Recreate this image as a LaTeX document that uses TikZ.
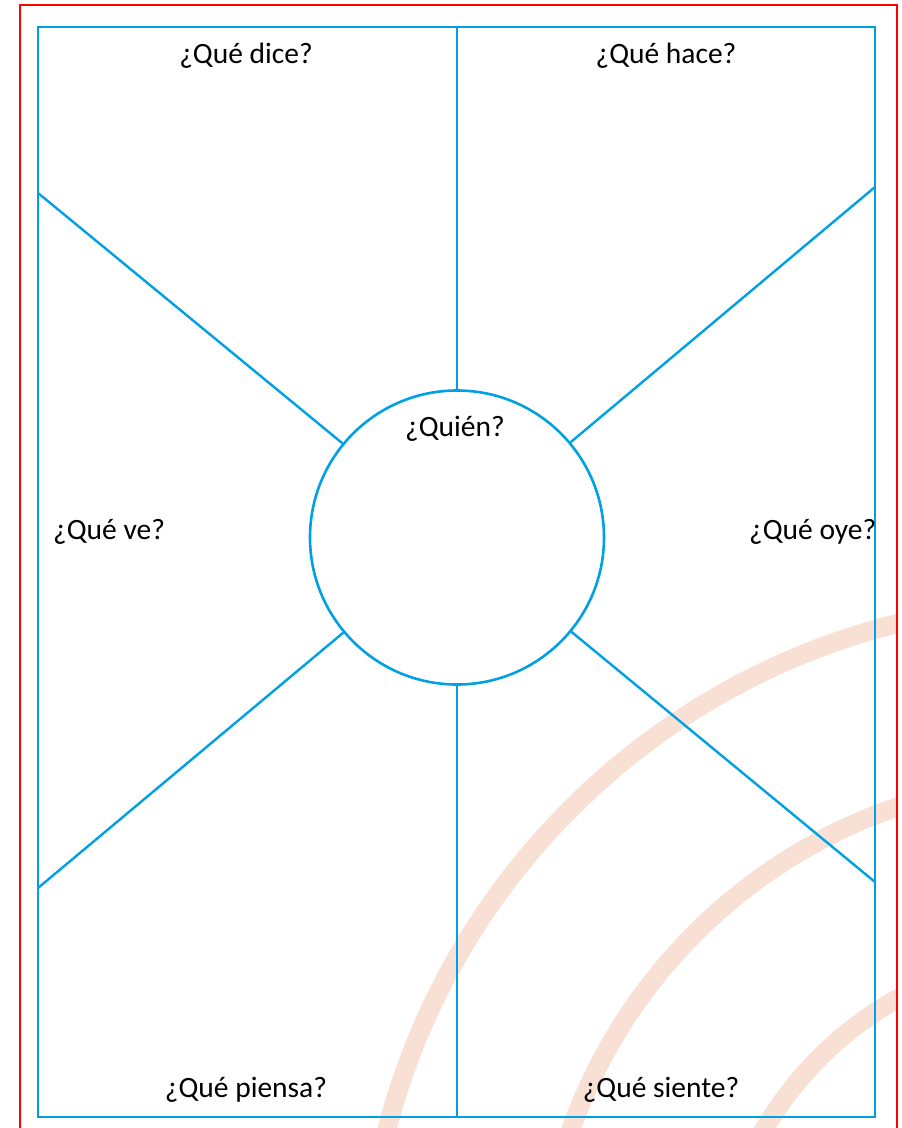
\documentclass[tikz,border=0pt]{standalone}
\usepackage{fontspec}
\setmainfont{Carlito}
\usetikzlibrary{positioning}
\definecolor{mapblue}{RGB}{0,160,228}
\definecolor{mapred}{RGB}{255,0,0}
\definecolor{peach}{RGB}{248,224,213}

\begin{document}
\begin{tikzpicture}[x=1pt, y=-1pt,
      frame/.style={draw=mapblue, line width=2.6pt},
      spoke/.style={draw=mapblue, line width=2.4pt},
      hub/.style={circle, draw=mapblue, line width=2.6pt,
                  minimum size=294pt, inner sep=0pt},
      ask/.style={font=\fontsize{29.5}{34}\selectfont, inner sep=0pt, anchor=base},
      deco/.style={draw=peach, line width=19pt}]
    \useasboundingbox (0,0) rectangle (902,1128);
    \clip (0,0) rectangle (902,1128);
    % pale rings in the corner
    \begin{scope}
      \clip (0,0) rectangle (896,1128);
      \foreach \r in {352,528,704}{
        \draw[deco] (1068.5,1306.5) circle[radius=\r pt];
      }
    \end{scope}
    % frame and its corners
    \coordinate (tl) at (38,27);
    \coordinate (br) at (875,1117);
    \coordinate (tm) at (457,27);
    \coordinate (bm) at (457,1117);
    \coordinate (ul) at (38,193);
    \coordinate (ur) at (875,187);
    \coordinate (ll) at (38,888);
    \coordinate (lr) at (875,882);
    \draw[frame] (tl) rectangle (br);
    \node[hub] (quien) at (457,537.5) {};
    % spokes to the hub
    \foreach \p in {tm,bm,ul,ur,ll,lr}{
      \draw[spoke] (\p) -- (quien);
    }
    \draw[mapred, line width=2.8pt] (20,1140) -- (20,5) -- (897,5) -- (897,1140);
    % questions
    \node[ask] (who) at (455,436) {¿Quién?};
    \node[ask] (dice) at (246,63) {¿Qué dice?};
    \node[ask] (hace) at (666,63) {¿Qué hace?};
    \node[ask, anchor=base west] (ve) at (53,539) {¿Qué ve?};
    \node[ask, anchor=base west] (oye) at (749,539) {¿Qué oye?};
    \node[ask] (piensa) at (246,1097) {¿Qué piensa?};
    \node[ask] (siente) at (661,1097) {¿Qué siente?};
\end{tikzpicture}
\end{document}
